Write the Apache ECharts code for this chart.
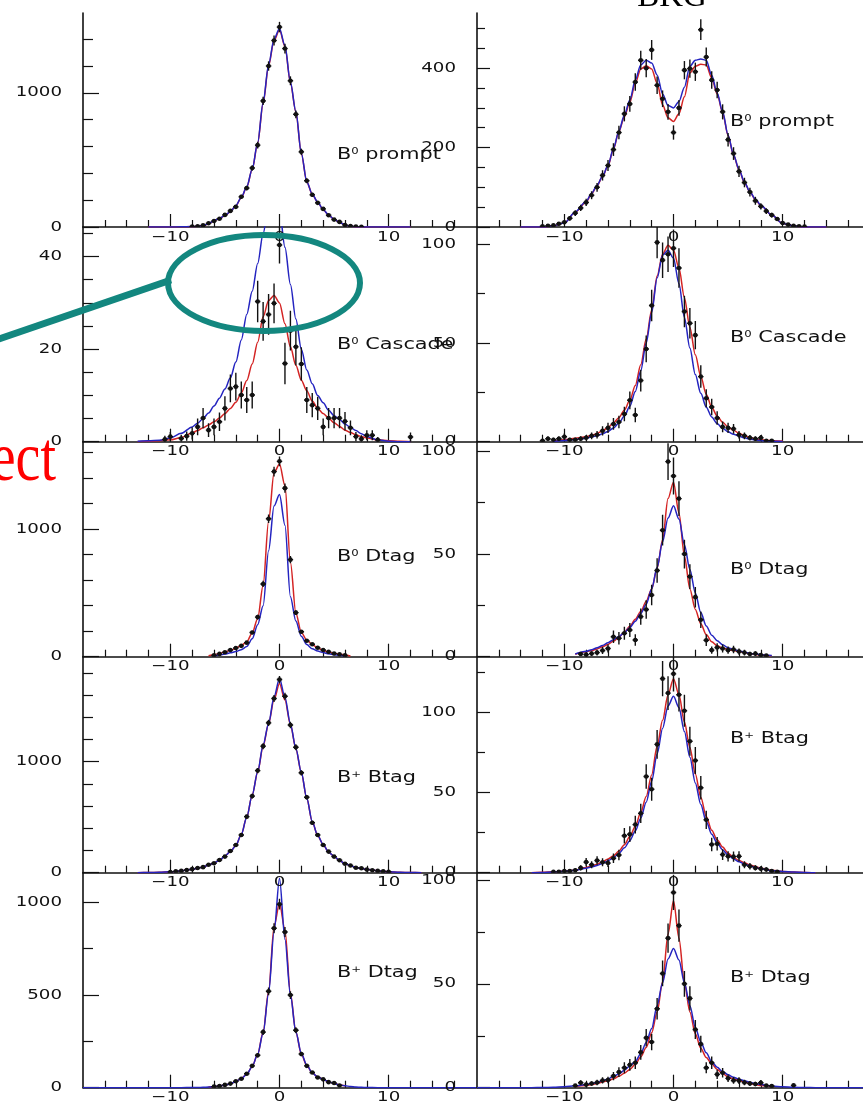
<!DOCTYPE html>
<html>
<head>
<meta charset="utf-8">
<title>Resolution fits: prompt, cascade, Dtag and Btag samples</title>
<script src="https://cdn.jsdelivr.net/npm/echarts@6/dist/echarts.min.js"></script>
<style>
html, body { margin: 0; padding: 0; background: #ffffff; width: 863px; height: 1108px; overflow: hidden; }
#chart { width: 871px; height: 1108px; }
</style>
</head>
<body>
<div id="chart"></div>
<script>
const _ = null;

// histogram bin centres and the sampling points of the fitted curves
const binX = [-12,-11.5,-11,-10.5,-10,-9.5,-9,-8.5,-8,-7.5,-7,-6.5,-6,-5.5,-5,-4.5,-4,-3.5,-3,-2.5,-2,-1.5,-1,-0.5,0,0.5,1,1.5,2,2.5,3,3.5,4,4.5,5,5.5,6,6.5,7,7.5,8,8.5,9,9.5,10,10.5,11,11.5,12];
const curveX = [-18,-16,-14,-13,-12,-11,-10,-9,-8,-7.5,-7,-6.5,-6,-5.5,-5,-4.5,-4,-3.5,-3,-2.5,-2,-1.5,-1,-0.5,0,0.5,1,1.5,2,2.5,3,3.5,4,4.5,5,5.5,6,6.5,7,7.5,8,9,10,11,12,13,14,16,18];

// axis tick positions and labels
const xMajor = [-10, 0, 10];
const xMinor = [-16,-14,-12,-8,-6,-4,-2,2,4,6,8,12,14,16];
const yMax = [1595, 539, 46.4, 108.8, 1684, 104.7, 1946, 134.7, 1160, 103.5];
const yMajor = [[0,1000],[0,200,400],[0,20,40],[0,50,100],[0,1000],[0,50,100],[0,1000],[0,50,100],[0,500,1000],[0,50,100]];
const yMinor = [[200,400,600,800,1200,1400],[50,100,150,250,300,350,450,500],[5,10,15,25,30,35,45],[25,75],[200,400,600,800,1200,1400,1600],[25,75],[200,400,600,800,1200,1400,1600,1800],[25,75,125],[250,750],[25,75]];

// panel names
const panelCharge = ['0','0','0','0','0','0','+','+','+','+'];
const panelName = ['prompt','prompt','Cascade','Cascade','Dtag','Dtag','Btag','Btag','Dtag','Dtag'];

// ---- B0 prompt (signal | BKG)
const L1_pts = [_,_,_,_,_,_,_,_,3,6,12,28,45,62,90,120,150,225,290,440,610,940,1200,1390,1490,1330,1090,840,560,345,240,180,135,88,55,38,15,8,3,2,_,_,_,_,_,_,_,_,_];
const L1_err = [_,_,_,_,_,_,_,_,2,3,4,5,7,8,9,11,12,15,17,21,25,30,35,37,39,36,33,29,24,19,16,13,12,9,7,6,4,3,2,1,_,_,_,_,_,_,_,_,_];
const L1_red = [_,_,_,_,0,0,0,1,3,5,10,24,46,64,84,114,158,218,298,428,625,920,1200,1390,1470,1345,1075,855,548,336,244,184,129,89,56,34,15,6,2,1,0,0,0,0,0,_,_,_,_];
const L1_blue = [_,_,_,_,0,0,0,1,3,5,10,25,48,65,85,115,160,220,300,430,630,930,1210,1400,1480,1350,1080,860,550,338,245,185,130,90,57,35,15,6,2,1,0,0,0,0,0,_,_,_,_];

const R1_pts = [2,3,4,8,12,22,35,48,62,80,100,130,155,195,238,285,310,365,420,400,446,357,323,290,238,300,395,399,391,497,428,370,345,290,220,185,140,112,88,66,52,40,30,20,10,6,3,2,1];
const R1_err = [2,2,3,4,5,6,7,8,9,10,11,13,14,16,17,19,20,22,24,23,25,22,21,20,18,20,23,23,23,26,24,22,21,19,17,16,14,12,11,10,8,7,6,5,4,3,2,2,1];
const R1_red = [_,_,0,0,0,3,10,37,63,84,104,127,154,196,240,278,314,362,398,406,398,362,308,275,266,285,328,388,405,410,408,375,335,288,230,181,144,112,88,69,54,30,9,3,0,0,0,_,_];
const R1_blue = [_,_,0,0,0,3,10,38,65,85,105,128,155,198,242,282,320,370,408,420,413,383,335,306,300,316,352,405,420,423,420,382,338,290,232,182,145,113,89,70,55,30,9,3,0,0,0,_,_];

// ---- B0 cascade
const L2_pts = [_,_,_,0.5,1.1,_,0.7,1.2,1.8,3.2,5.1,2.5,3.2,4.3,7.2,11.5,11.9,10.1,9.0,10.1,30.3,26,27.5,29.9,42.5,16.9,24,20.5,16.8,9.0,7.9,7.2,3.2,5.1,5.1,5.1,4.4,3.0,1.1,0.6,1.4,1.4,0.4,_,_,_,_,_,1.0];
const L2_err = [_,_,_,0.8,1,_,0.8,1,1.3,1.8,2.2,1.5,1.8,2,2.6,3,3,2.9,2.8,2.9,4.5,4.2,4.4,4.3,4,4.5,4.3,4,3.6,2.8,2.6,2.5,1.8,2.2,2.2,2.2,2,1.6,1,0.8,1.1,1.1,0.6,_,_,_,_,_,1];
const L2_red = [_,_,_,0,0.1,0.2,0.4,0.9,1.9,2.4,3.0,3.6,4.3,5.1,6.1,7.2,8.5,10.5,13.2,16.8,21.5,27,30.5,31.6,30,25.5,20.5,16.5,13.3,11,8.8,7.2,6.1,5.1,4.1,3.3,2.5,2.0,1.5,1.1,0.8,0.4,0.2,0.1,0,_,_,_,_];
const L2_blue = [_,_,_,0.1,0.2,0.3,0.8,1.8,3.2,4.0,5.0,6.2,7.7,9.4,11.4,13.8,17.2,22,27.5,32.5,38.5,45,51,54,50,42,34,26.5,20,15.5,12.5,10,8.4,6.8,5.6,4.8,3.8,3.1,2.4,1.7,1.1,0.4,0.1,0,0,_,_,_,_];

const R2_pts = [0.5,1.5,1,1.5,2.5,1,1,1.5,2,3,3.5,5.5,7,9,10,14,21,13.5,31,47,69,101,92,95,98,88,66,60,54,33,22,17.6,12,7.5,7,6.5,3.5,3,2,1.5,2,0.5,0.5,_,_,_,_,_,_];
const R2_err = [0.7,1.2,1,1.2,1.6,1,1,1.2,1.4,1.7,1.9,2.3,2.6,3,3.2,3.7,4.5,3.7,5.5,6.8,8,8,9,9,9.5,10,8,7.7,7.2,5.7,4.6,4.2,3.4,2.7,2.6,2.5,1.9,1.7,1.4,1.2,1.4,0.7,0.7,_,_,_,_,_,_];
const R2_red = [_,_,_,_,_,0.4,1.0,1.7,2.5,3.2,4.2,5.5,7.2,9.5,12.2,16,21,28.5,39,52,66.7,84,95,99.6,97,88,73,58,44,33,24,17.5,13,9.8,7.5,5.8,4.3,3.1,2.1,1.5,1.0,0.5,0.3,_,_,_,_,_,_];
const R2_blue = [_,_,_,_,_,0.2,0.6,1.1,1.8,2.4,3.0,4.0,5.2,7,9.5,13,18,25.5,36,50,65.5,83,94.5,97,93,80,63,47.5,34,24.5,17.5,12.5,9.2,6.8,5.0,3.8,2.8,2.0,1.3,0.9,0.6,0.2,0.1,_,_,_,_,_,_];

// ---- B0 Dtag
const L3_pts = [_,_,_,_,_,_,_,_,_,_,_,_,10,22,35,52,68,85,110,190,310,570,1080,1450,1530,1320,760,345,195,125,98,70,52,38,25,18,10,_,_,_,_,_,_,_,_,_,_,_,_];
const L3_err = [_,_,_,_,_,_,_,_,_,_,_,_,3,5,6,7,8,9,11,14,18,24,33,38,39,36,28,19,14,11,10,8,7,6,5,4,3,_,_,_,_,_,_,_,_,_,_,_,_];
const L3_red = [_,_,_,_,_,_,_,_,_,_,_,8,15,25,38,50,66,88,117,185,300,560,1060,1440,1510,1340,740,340,190,130,95,68,50,36,28,20,13,6,_,_,_,_,_,_,_,_,_,_,_];
const L3_blue = [_,_,_,_,_,_,_,_,_,_,_,_,8,14,21,30,40,55,80,140,250,400,830,1180,1270,1030,470,280,160,95,62,44,32,23,16,11,7,_,_,_,_,_,_,_,_,_,_,_,_];

const R3_pts = [_,_,_,_,_,_,_,1.3,1,1.5,2,3,4,9.7,9,11.4,13,8.1,19.5,23,30,42,61.6,95,88,77,50,39,29,18,8,3.2,4.5,4,3.2,3.5,2.5,2,1.3,1.5,0.8,0.5,_,_,_,_,_,_,_];
const R3_err = [_,_,_,_,_,_,_,1,1,1.2,1.4,1.7,2,3,3,3.2,3.4,2.8,4,4.5,5,6,7.5,9,9,8.5,7,6,5,4,2.8,1.8,2,2,1.8,1.8,1.5,1.4,1.1,1.2,0.9,0.7,_,_,_,_,_,_,_];
const R3_red = [_,_,_,_,_,_,_,1.2,2.4,3.0,3.8,4.8,6.0,7.6,9.5,12,14.8,18.2,22,27,33,43,57,77,85,70,49,33,23,16,10.8,7.3,5.3,4.2,3.5,3.0,2.5,2.0,1.5,1.1,0.8,0.4,_,_,_,_,_,_,_];
const R3_blue = [_,_,_,_,_,_,_,1.3,2.6,3.4,4.3,5.5,6.8,8.3,9.8,11.8,14.2,17.3,21,25.5,33,43.5,56,67.5,73.5,67,54.5,42.5,31,21.5,15,10.5,7.8,5.8,4.4,3.5,2.8,2.2,1.6,1.3,1.0,0.6,_,_,_,_,_,_,_];

// ---- B+ Btag
const L4_pts = [_,_,_,_,6,12,16,24,32,42,50,72,85,115,145,195,250,340,505,690,920,1140,1350,1570,1740,1590,1330,1130,900,680,450,340,250,190,145,112,80,65,45,40,28,22,16,12,8,_,_,_,_];
const L4_err = [_,_,_,_,2,3,3,4,5,5,6,7,7,9,10,11,13,15,18,21,24,27,29,32,33,32,29,27,24,21,17,15,13,11,10,8,7,6,5,5,4,4,3,3,2,_,_,_,_];
const L4_red = [_,_,_,0,1,3,8,18,31,40,52,69,88,112,150,190,245,345,500,700,905,1140,1340,1560,1705,1555,1335,1115,900,668,458,334,254,185,148,110,82,62,48,38,30,17,8,3,1,0,_,_,_];
const L4_blue = [_,_,_,0,1,3,8,18,31,40,52,69,88,112,150,190,245,345,500,700,910,1150,1345,1585,1750,1580,1340,1120,905,670,460,335,255,185,148,110,82,62,48,38,30,17,8,3,1,0,_,_,_];

const R4_pts = [_,_,0.5,0.5,1,1,1.5,3,6.6,5,7.6,6.5,6,9,11,23,24,30,37,60,52,80,121,112,124,111,101,82,70,53,33,17.6,18,11.3,10.2,10,10.2,5,4,3,2.5,2,1,0.5,_,_,_,_,_];
const R4_err = [_,_,0.7,0.7,1,1,1.2,1.7,2.5,2.2,2.7,2.5,2.4,3,3.3,4.8,4.9,5.5,6,7.7,7.2,9,11,10.5,11,10.5,10,9,8.4,7.3,5.7,4.2,4.2,3.4,3.2,3.2,3.2,2.2,2,1.7,1.6,1.4,1,0.7,_,_,_,_,_];
const R4_red = [_,_,_,0,0.3,0.6,1.0,1.6,3.3,4.2,5.2,6.8,8.6,10.5,13.5,17.5,22.5,29,37.5,47.5,61,79,95,111,121,111,94,78,61.5,47,35,26.5,20.5,16,12.1,9.5,7.6,6.2,4.8,3.8,2.8,1.5,0.8,0.4,0.2,0,_,_,_];
const R4_blue = [_,_,_,0,0.2,0.5,0.9,1.5,2.8,3.6,4.5,5.8,7.5,9.3,12,15.5,20,26,34,44,57,74,90,104,110,103,88,72,56,42.5,32,24,18.5,14.2,11,8.6,6.8,5.4,4.2,3.3,2.4,1.3,0.7,0.4,0.2,0,_,_,_];

// ---- B+ Dtag
const L5_pts = [_,_,_,_,_,_,_,_,_,_,_,_,6,9,15,22,35,48,75,118,175,300,520,860,990,840,500,310,182,118,82,55,45,30,25,12,_,_,_,_,_,_,_,_,_,_,_,_,_];
const L5_err = [_,_,_,_,_,_,_,_,_,_,_,_,2,3,4,5,6,7,8,10,12,16,21,27,29,27,21,16,12,10,8,7,6,5,4,3,_,_,_,_,_,_,_,_,_,_,_,_,_];
const L5_red = [_,_,_,_,_,_,_,_,_,_,_,4,7,10,14,21,33,50,73,115,180,300,520,870,995,850,510,300,180,120,80,58,45,32,23,15,10,_,_,_,_,_,_,_,_,_,_,_,_];
const L5_blue = [0,0,0,0,0,0,0,0,1,1.5,2,4,7,10,14,21,33,50,72,115,180,295,509,840,1130,800,500,300,185,122,80,58,45,32,23,15,10,7,4,2,1,0,0,0,0,0,0,0,0];

const R5_pts = [_,_,_,_,_,_,1,2.4,1.5,2,2.5,3.5,3.7,5.6,7.5,9.6,11,12,17,24,22,38,55,72,94,78,50,43,28,21,9.6,12,6.4,7.2,4.5,3.5,3.4,2.5,2,1.8,2.4,1,0.8,_,_,_,1.1,_,_];
const R5_err = [_,_,_,_,_,_,0.8,1.2,1,1.1,1.3,1.5,1.6,2,2.3,2.6,2.8,3,3.5,4.2,4,5.2,6.2,7,8.5,7.8,6.2,5.8,4.6,4,2.7,3,2.2,2.3,1.8,1.6,1.6,1.3,1.2,1.1,1.3,0.8,0.7,_,_,_,0.8,_,_];
const R5_red = [_,_,_,_,_,_,_,0.5,1.0,1.5,2.0,2.7,3.4,4.3,5.5,7,8.8,11.3,14.8,19.3,26.5,36.5,51,74,90,72,50.5,36.5,26,19,14.5,11.5,8.8,6.8,5.2,4.2,3.4,2.7,2,1.5,1,0.5,_,_,_,_,_,_,_];
const R5_blue = [0,0,0,0,0.1,0.2,0.5,0.9,1.5,2.0,2.5,3.3,4.2,5.5,6.6,8.4,10.5,12.6,16.4,21.8,28.5,39.5,50.5,62,67,61.5,50.5,39.5,29,22,16.8,12.5,9.8,7.8,6.2,5,4.1,3.3,2.6,2,1.5,0.8,0.4,0.2,0.1,0,0,0,0];

// panels in reading order: left = signal, right = BKG
const panels = [
  [L1_red, L1_blue, L1_pts, L1_err], [R1_red, R1_blue, R1_pts, R1_err],
  [L2_red, L2_blue, L2_pts, L2_err], [R2_red, R2_blue, R2_pts, R2_err],
  [L3_red, L3_blue, L3_pts, L3_err], [R3_red, R3_blue, R3_pts, R3_err],
  [L4_red, L4_blue, L4_pts, L4_err], [R4_red, R4_blue, R4_pts, R4_err],
  [L5_red, L5_blue, L5_pts, L5_err], [R5_red, R5_blue, R5_pts, R5_err]
];

// ---- layout and styling
const INK = '#111111';
const RED = '#d42424';
const BLUE = '#2424c0';
const TEAL = '#13877f';
const GRID_W = 393;
const colLeft = [83, 477];
const rowTop = [13, 227, 441.7, 656.7, 872.7];
const rowH = [214, 214.7, 215, 216, 215];
const titleAt = [[337,155],[730,122],[337,345],[730,338],[337,557],[730,570],[337,778],[730,739],[337,973],[730,978]];
const SANS = '"DejaVu Sans", Verdana, sans-serif';
const STRETCH = 1.3;

function curveData(arr) {
  const out = [];
  curveX.forEach((x, i) => { if (arr[i] !== null) out.push([x, arr[i]]); });
  return out;
}
function pointData(ys, es) {
  const out = [];
  binX.forEach((x, i) => { if (ys[i] !== null) out.push([x, ys[i], es[i] || 0]); });
  return out;
}
function drawPoint(params, api) {
  const x = api.value(0), y = api.value(1), e = api.value(2);
  const c = api.coord([x, y]);
  const hi = api.coord([x, y + e]);
  const lo = api.coord([x, Math.max(y - e, 0)]);
  const hw = api.size([0.25, 0])[0];
  return {
    type: 'group',
    children: [
      { type: 'line', shape: { x1: c[0], y1: hi[1], x2: c[0], y2: lo[1] }, style: { stroke: INK, lineWidth: 1.4 } },
      { type: 'line', shape: { x1: c[0] - hw, y1: c[1], x2: c[0] + hw, y2: c[1] }, style: { stroke: INK, lineWidth: 1.4 } },
      { type: 'circle', shape: { cx: c[0], cy: c[1], r: 2.3 }, style: { fill: INK } }
    ]
  };
}

const grids = [], xAxes = [], yAxes = [], series = [];
for (let p = 0; p < panels.length; p++) {
  const row = Math.floor(p / 2), col = p % 2;
  grids.push({ left: colLeft[col], top: rowTop[row], width: GRID_W, height: rowH[row], outerBoundsMode: 'none', containLabel: false });
  const tickStyle = { color: INK, width: 1.2 };
  xAxes.push({
    type: 'value', gridIndex: p, min: -18, max: 18, position: 'bottom',
    axisLine: { show: true, onZero: false, lineStyle: { color: INK, width: 1.5 } },
    axisTick: { show: true, inside: true, length: 13, customValues: xMajor, lineStyle: tickStyle },
    axisLabel: { show: false }, splitLine: { show: false }
  });
  xAxes.push({
    type: 'value', gridIndex: p, min: -18, max: 18, position: 'bottom',
    axisLine: { show: false, onZero: false },
    axisTick: { show: true, inside: true, length: 7, customValues: xMinor, lineStyle: tickStyle },
    axisLabel: { show: false }, splitLine: { show: false }
  });
  yAxes.push({
    type: 'value', gridIndex: p, min: 0, max: yMax[p], position: 'left',
    axisLine: { show: true, onZero: false, lineStyle: { color: INK, width: 1.6 } },
    axisTick: { show: true, inside: true, length: col ? 13 : 16, customValues: yMajor[p], lineStyle: tickStyle },
    axisLabel: { show: false }, splitLine: { show: false }
  });
  yAxes.push({
    type: 'value', gridIndex: p, min: 0, max: yMax[p], position: 'left',
    axisLine: { show: false, onZero: false },
    axisTick: { show: true, inside: true, length: col ? 8 : 10, customValues: yMinor[p], lineStyle: tickStyle },
    axisLabel: { show: false }, splitLine: { show: false }
  });
  const [red, blue, pts, err] = panels[p];
  series.push({
    type: 'line', xAxisIndex: 2 * p, yAxisIndex: 2 * p, data: curveData(red),
    showSymbol: false, smooth: 0.3, smoothMonotone: 'x', clip: true, z: 2,
    lineStyle: { color: RED, width: 1.5 }
  });
  series.push({
    type: 'line', xAxisIndex: 2 * p, yAxisIndex: 2 * p, data: curveData(blue),
    showSymbol: false, smooth: 0.3, smoothMonotone: 'x', clip: true, z: 3,
    lineStyle: { color: BLUE, width: 1.5 }
  });
  series.push({
    type: 'custom', xAxisIndex: 2 * p, yAxisIndex: 2 * p, data: pointData(pts, err),
    dimensions: ['x', 'y', 'err'], encode: { x: 0, y: 1 },
    renderItem: drawPoint, clip: true, z: 4
  });
}

const chart = echarts.init(document.getElementById('chart'), null, { renderer: 'canvas' });
chart.setOption({
  animation: false,
  backgroundColor: '#ffffff',
  grid: grids, xAxis: xAxes, yAxis: yAxes, series: series
});

// tick labels, panel names and slide annotations
function tickText(x, y, text, align) {
  return {
    type: 'text', x: x, y: y, scaleX: STRETCH, silent: true, z: 20,
    style: { text: text, fill: INK, font: '14px ' + SANS, align: align, verticalAlign: 'middle' }
  };
}
const gfx = [];
for (let p = 0; p < panels.length; p++) {
  const row = Math.floor(p / 2), col = p % 2;
  yMajor[p].forEach(v => {
    const py = chart.convertToPixel({ yAxisIndex: 2 * p }, v);
    gfx.push(tickText(colLeft[col] - 21, py, String(v), 'right'));
  });
  xMajor.forEach(v => {
    const px = chart.convertToPixel({ xAxisIndex: 2 * p }, v);
    gfx.push(tickText(px, rowTop[row] + rowH[row] + 10, String(v).replace('-', '\u2212'), 'center'));
  });
  gfx.push({
    type: 'text', x: titleAt[p][0], y: titleAt[p][1], scaleX: STRETCH, silent: true, z: 20,
    style: {
      text: '{b|B}{s|' + panelCharge[p] + '}{b| ' + panelName[p] + '}',
      align: 'left', verticalAlign: 'middle', fill: INK, font: '16px ' + SANS,
      rich: {
        b: { fontSize: 16, fontFamily: 'DejaVu Sans', fill: INK },
        s: { fontSize: 9, fontFamily: 'DejaVu Sans', fill: INK, verticalAlign: 'top' }
      }
    }
  });
}
gfx.push({
  type: 'text', x: 672, y: -3, silent: true, z: 30,
  style: { text: 'BKG', fill: '#000000', font: '33px "Liberation Serif", "Times New Roman", serif', align: 'center', verticalAlign: 'middle' }
});
gfx.push({
  type: 'text', x: 56, y: 462, scaleY: 1.25, silent: true, z: 30,
  style: { text: 'ect', fill: '#ff0000', font: '56px "Liberation Serif", "Times New Roman", serif', align: 'right', verticalAlign: 'middle' }
});
gfx.push({
  type: 'ellipse', silent: true, z: 30,
  shape: { cx: 264, cy: 283, rx: 96, ry: 48 },
  style: { fill: 'transparent', stroke: TEAL, lineWidth: 6 }
});
gfx.push({
  type: 'line', silent: true, z: 30,
  shape: { x1: -4, y1: 340, x2: 171, y2: 280 },
  style: { stroke: TEAL, lineWidth: 7 }
});
chart.setOption({ graphic: { elements: gfx } });
</script>
</body>
</html>
